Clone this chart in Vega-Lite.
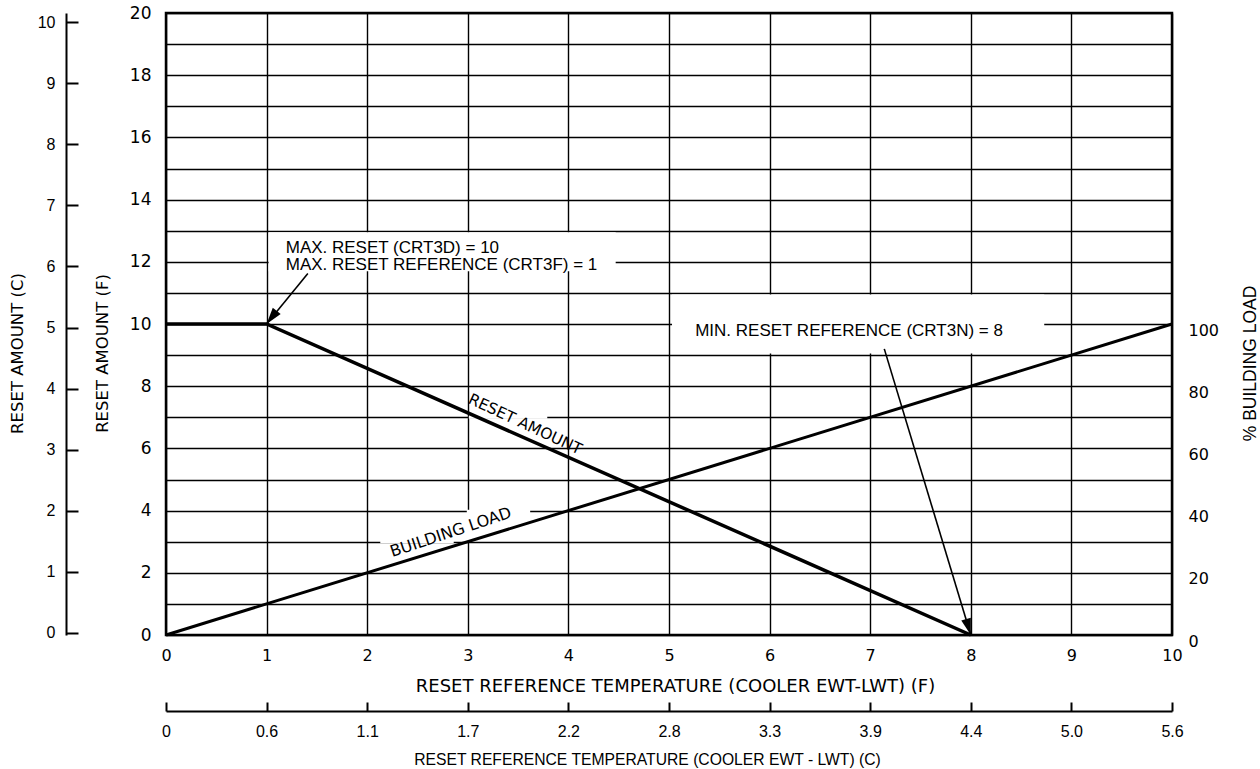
{
  "$schema": "https://vega.github.io/schema/vega-lite/v6.json",
  "width": 1006,
  "height": 622,
  "autosize": {"type": "none"},
  "padding": {"left": 166, "top": 13, "right": 88, "bottom": 134},
  "background": "white",
  "config": {
    "view": {"stroke": "black", "strokeWidth": 2.5},
    "axis": {"labelColor": "black", "titleColor": "black", "titleFontWeight": "normal", "labelFlush": false}
  },
  "datasets": {
    "reset": [{"t": 0, "f": 10}, {"t": 1, "f": 10}, {"t": 8, "f": 0}],
    "load": [{"t": 0, "pct": 0}, {"t": 10, "pct": 100}],
    "masks": [
      {"t": 1.02, "t2": 4.47, "f": 11.7, "f2": 12.95},
      {"t": 5.03, "t2": 8.73, "f": 9.05, "f2": 10.95},
      {"t": 3.01, "t2": 3.79, "f": 6.95, "f2": 7.05},
      {"t": 2.99, "t2": 3.62, "f": 3.03, "f2": 4.03},
      {"t": 2.13, "t2": 2.86, "f": 2.95, "f2": 3.05}
    ],
    "arrows": [
      {"arrow": "max", "t": 1.41, "f": 11.62},
      {"arrow": "max", "t": 1.0, "f": 10.0},
      {"arrow": "min", "t": 7.14, "f": 9.2},
      {"arrow": "min", "t": 8.0, "f": 0.0}
    ],
    "heads": [
      {"arrow": "max", "t": 1.0, "f": 10.0},
      {"arrow": "min", "t": 8.0, "f": 0.0}
    ],
    "notes": [
      {"t": 1.19, "f": 12.28, "label": "MAX. RESET (CRT3D) = 10"},
      {"t": 1.19, "f": 11.74, "label": "MAX. RESET REFERENCE (CRT3F) = 1"},
      {"t": 5.26, "f": 9.61, "label": "MIN. RESET REFERENCE (CRT3N) = 8"}
    ],
    "curveLabels": [
      {"t": 3.57, "f": 6.78, "label": "RESET AMOUNT"},
      {"t": 2.83, "f": 3.3, "label": "BUILDING LOAD"}
    ]
  },
  "layer": [
    {
      "encoding": {
        "x": {
          "field": "t", "type": "quantitative",
          "scale": {"domain": [0, 10], "nice": false, "zero": false},
          "axis": {
            "orient": "bottom", "values": [0,1,2,3,4,5,6,7,8,9,10],
            "grid": true, "gridColor": "black", "gridWidth": 1.4, "gridOpacity": 1,
            "ticks": false, "domain": false,
            "labelPadding": 12, "labelFont": "DejaVu Sans", "labelFontSize": 16,
            "title": "RESET REFERENCE TEMPERATURE (COOLER EWT-LWT) (F)",
            "titleFont": "DejaVu Sans", "titleFontSize": 18,
            "titleX": 509, "titleY": 51, "titleBaseline": "middle", "titleAlign": "center"
          }
        },
        "y": {
          "field": "f", "type": "quantitative",
          "scale": {"domain": [0, 20], "nice": false, "zero": false},
          "axis": {
            "orient": "left", "values": [0,1,2,3,4,5,6,7,8,9,10,11,12,13,14,15,16,17,18,19,20],
            "labelExpr": "datum.value % 2 == 0 ? datum.label : ''",
            "grid": true, "gridColor": "black", "gridWidth": 1.4, "gridOpacity": 1,
            "ticks": false, "domain": false,
            "labelPadding": 15, "labelFont": "DejaVu Sans", "labelFontSize": 17,
            "title": "RESET AMOUNT (F)",
            "titleFont": "DejaVu Sans", "titleFontSize": 16.5,
            "titleX": -64, "titleY": 340, "titleAngle": 270, "titleBaseline": "middle", "titleAlign": "center"
          }
        }
      },
      "layer": [
        {
          "data": {"name": "masks"},
          "mark": {"type": "rect", "fill": "white", "stroke": null},
          "encoding": {"x2": {"field": "t2"}, "y2": {"field": "f2"}}
        },
        {
          "data": {"name": "reset"},
          "mark": {"type": "line", "color": "black", "strokeWidth": 3.5}
        },
        {
          "data": {"name": "arrows"},
          "mark": {"type": "line", "color": "black", "strokeWidth": 1.6},
          "encoding": {"detail": {"field": "arrow", "type": "nominal"}}
        },
        {
          "data": {"name": "heads"},
          "transform": [{"filter": "datum.arrow == 'max'"}],
          "mark": {"type": "point", "shape": "M0,0L-0.3,-1L0.3,-1Z", "filled": true, "color": "black", "opacity": 1, "size": 1100, "angle": 37.6, "strokeWidth": 0}
        },
        {
          "data": {"name": "heads"},
          "transform": [{"filter": "datum.arrow == 'min'"}],
          "mark": {"type": "point", "shape": "M0,0L-0.3,-1L0.3,-1Z", "filled": true, "color": "black", "opacity": 1, "size": 1100, "angle": 343.3, "strokeWidth": 0}
        },
        {
          "data": {"name": "notes"},
          "mark": {"type": "text", "align": "left", "baseline": "alphabetic", "font": "Liberation Sans", "fontSize": 17, "color": "black"},
          "encoding": {"text": {"field": "label"}}
        },
        {
          "data": {"name": "curveLabels"},
          "transform": [{"filter": "datum.label == 'RESET AMOUNT'"}],
          "mark": {"type": "text", "align": "center", "baseline": "middle", "font": "DejaVu Sans", "fontSize": 15.5, "color": "black", "angle": 25},
          "encoding": {"text": {"field": "label"}}
        },
        {
          "data": {"name": "curveLabels"},
          "transform": [{"filter": "datum.label == 'BUILDING LOAD'"}],
          "mark": {"type": "text", "align": "center", "baseline": "middle", "font": "DejaVu Sans", "fontSize": 16, "color": "black", "angle": 341.6},
          "encoding": {"text": {"field": "label"}}
        }
      ]
    },
    {
      "data": {"name": "load"},
      "mark": {"type": "line", "color": "black", "strokeWidth": 3},
      "encoding": {
        "x": {"field": "t", "type": "quantitative", "scale": {"domain": [0, 10], "nice": false, "zero": false}, "axis": null},
        "y": {
          "field": "pct", "type": "quantitative",
          "scale": {"domain": [0, 200], "nice": false, "zero": false},
          "axis": {
            "orient": "right", "values": [0, 20, 40, 60, 80, 100],
            "grid": false, "ticks": false, "domain": false,
            "labelPadding": 16, "labelOffset": 6, "labelFont": "DejaVu Sans", "labelFontSize": 16,
            "title": "% BUILDING LOAD", "titleFont": "Liberation Sans", "titleFontSize": 17.5,
            "titleX": 78, "titleY": 350, "titleAngle": 270, "titleBaseline": "middle", "titleAlign": "center"
          }
        }
      }
    },
    {
      "data": {"name": "reset"},
      "mark": {"type": "point", "opacity": 0},
      "encoding": {
        "x": {
          "field": "t", "type": "quantitative",
          "scale": {"domain": [0, 10], "nice": false, "zero": false},
          "axis": {
            "orient": "bottom", "offset": 76, "values": [0,1,2,3,4,5,6,7,8,9,10],
            "labelExpr": "datum.value == 0 ? '0' : format(datum.value * 5 / 9, '.1f')",
            "grid": false, "domain": true, "domainColor": "black", "domainWidth": 2,
            "ticks": true, "tickColor": "black", "tickWidth": 2, "tickSize": -9,
            "labelPadding": 21, "labelFont": "Liberation Sans", "labelFontSize": 16,
            "title": "RESET REFERENCE TEMPERATURE (COOLER EWT - LWT) (C)",
            "titleFont": "Liberation Sans", "titleFontSize": 15.7,
            "titleX": 481, "titleY": 48, "titleBaseline": "middle", "titleAlign": "center"
          }
        },
        "y": {
          "field": "f", "type": "quantitative",
          "scale": {"domain": [-0.066, 20.3], "nice": false, "zero": false},
          "axis": {
            "orient": "left", "offset": 100, "values": [0,2,4,6,8,10,12,14,16,18,20],
            "labelExpr": "format(datum.value / 2, 'd')",
            "grid": false, "domain": true, "domainColor": "black", "domainWidth": 2,
            "ticks": true, "tickColor": "black", "tickWidth": 2, "tickSize": -12,
            "labelPadding": 23, "labelFont": "Liberation Sans", "labelFontSize": 16,
            "title": "RESET AMOUNT (C)", "titleFont": "DejaVu Sans", "titleFontSize": 16.5,
            "titleX": -49, "titleY": 340, "titleAngle": 270, "titleBaseline": "middle", "titleAlign": "center"
          }
        }
      }
    }
  ],
  "resolve": {"scale": {"x": "independent", "y": "independent"}}
}
